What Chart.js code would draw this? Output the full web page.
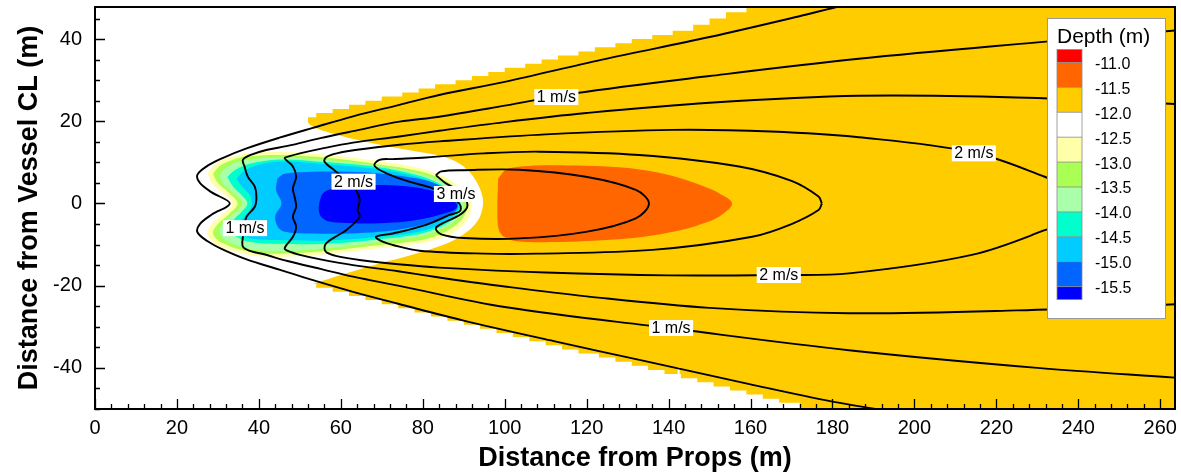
<!DOCTYPE html>
<html><head><meta charset="utf-8">
<script src="https://cdn.jsdelivr.net/npm/chart.js"></script>
<style>html,body{margin:0;padding:0;background:#fff;}#wrap{width:1181px;height:475px;}</style>
</head><body><div id="wrap"><canvas id="c" width="1181" height="475"></canvas></div>
<script>
// ---------- axis ticks ----------
const xTicks = [0,20,40,60,80,100,120,140,160,180,200,220,240,260];
const yTicks = [-40,-20,0,20,40];
const xMinorStep = 4, yMinorStep = 5;

// ---------- depth bands (m) ----------
const legendTitle = 'Depth (m)';
const legendLabels = ['-11.0','-11.5','-12.0','-12.5','-13.0','-13.5','-14.0','-14.5','-15.0','-15.5'];
const legendColors = ['#FF0000','#FF6600','#FFCC00','#FFFFFF','#FFFFAA','#AAFF55','#AAFFAA','#00FFCC','#00CCFF','#0066FF','#0000FF'];

// -12.0..-11.5 region (yellow): stepped upper/lower edges of the domain
const upperStairX = [52,54,58,62,66,70,75,79,83,88,92,96,100,105,109,113,118,122,127,131,136,141,146,150,154,159];
const upperStairY = [21,22,23,24,25,26,27,28,29,30,31,32,33,34,35,36,37,38,39,40,41,42,43.5,45,46.5,48];
const yellowEdgeX = [264,264];
const yellowEdgeY = [48,-50];
const lowerStairX = [172,167,163,159,155,151,147,143,142.7,142.2,139,135,131,127,123,118,114,110,106,102,98,94,90,86,82,78,74,70,66,62,58,54,52];
const lowerStairY = [-48.5,-47.5,-46.5,-45.5,-44.5,-43.5,-42.5,-41.5,-39.8,-41.5,-40.5,-39.5,-38.5,-37.5,-36.5,-35.5,-34.5,-33.5,-32.5,-31.5,-30.5,-29.5,-28.5,-27.5,-26.5,-25.5,-24.5,-23.5,-22.5,-21.5,-20.5,-19.5,-19.5];

// -12.5..-12.0 lens (white)
const lensX = [44,51,53,58,66,74.3,80,85.7,90,93,94.6,94.5,93.2,90,85.7,77,69.4,62,57.2,53,51,44,44];
const lensY = [23,20.5,18.8,17,15,13.4,12.4,11.2,9,5.5,1.5,-1.5,-4.5,-7.5,-9.8,-12.6,-14.6,-16.8,-18.3,-19.6,-20.5,-23,23];

// -11.5..-11.0 (orange)
const orangeX = [98.4,100.3,104,111.6,127.9,137,144.1,149,152.3,155.5,152.3,148,144.1,136,127.9,111.6,103,100,98.6,98.2,98.4];
const orangeY = [6,8.2,9,9.3,8.8,7.6,5.8,4,2.5,0,-3.2,-5,-6.2,-7.8,-8.7,-9.4,-9.2,-8.2,-6.5,-2,6];

// scour bands
const paleYellowX = [27.5,29.6,33,37,45,57,69.4,79,85,89,91.6,91.8,90.5,86.5,80,69.4,57,45,37,29.6,27.5,28.5,31.5,33.5,31.5,28.5,27.5];
const paleYellowY = [7.5,9.8,11.3,12.1,12.6,11.8,10.3,8.7,6.6,3.9,0.5,-1.5,-4.5,-7.6,-9.6,-10.9,-12.3,-13,-12.4,-10,-7.5,-5,-2.3,0,2.3,5,7.5];
const yellowGreenX = [28.8,30.5,33.5,37,45,57,69.4,79,84.8,88.4,90.6,90.7,89.4,85.6,80,69.4,57,45,37,30.5,28.8,30,32.8,34.8,32.8,30,28.8];
const yellowGreenY = [7.2,9.2,10.6,11.4,11.8,11.1,9.5,7.9,5.9,3.4,0.3,-1.5,-4,-6.8,-8.8,-10.1,-11.5,-12.2,-11.6,-9.3,-7.2,-5,-2.5,0,2.5,5,7.2];
const lightGreenX = [30.2,31.8,34,37.5,45,57,69.4,79,84.5,87.9,89.8,89.8,88.6,85,79.5,69.4,57,45,37.5,32,30.3,31.5,34,36,34,31.5,30.2];
const lightGreenY = [6.8,8.5,9.8,10.7,11.2,10.5,9.1,7.3,5.3,2.9,0.2,-1.4,-3.6,-6.1,-8,-9.4,-10.9,-11.6,-11,-9,-7,-4.6,-2.3,0,2.3,4.6,6.8];
const aquaX = [32.3,34,37.5,45,57,69.4,79,84.3,87.5,89.2,89.2,88,84.6,79.2,69.4,57,45,37.5,34,32.6,33.8,35.8,37.2,35.8,33.8,32.3];
const aquaY = [6.4,8,9.6,10.7,10,8.8,6.8,4.7,2.4,0.1,-1.3,-3.3,-5.6,-7.4,-8.7,-9.8,-9.8,-9.3,-7.8,-6.3,-4,-2,0,2,4,6.4];
const cyanX = [34.5,36,38.5,45,57,69.4,79,84,87.1,88.7,88.7,87.5,84.2,79,69.4,57,45,38.5,35.5,34.8,36.2,37.8,38.3,37.8,36,34.5];
const cyanY = [6,7.6,9,10.2,9.5,8.3,6.3,4.3,2,0,-1.3,-3,-5.2,-6.9,-8.1,-9,-8.9,-8.6,-7.4,-5.6,-3.5,-1.5,0,2,4,6];
const blueX = [44.5,46,53.2,62,69.4,76,81.6,85.5,88.4,88.4,86.5,84,76,69.4,62,53.2,46,44.5,44,45.5,44.2,44.5];
const blueY = [6,7.2,7.7,7.7,7.3,6.5,5.4,3.5,0.6,-1.3,-3,-4.2,-6,-6.9,-7.3,-7.3,-6.8,-5.5,-3,0,3.2,6];
const darkBlueX = [54.8,55.5,57.2,63,69.4,76,81.6,85.5,88.2,88.1,85,81.6,76,69.4,63,57.2,55.2,54.6,54.8];
const darkBlueY = [0.4,2.3,3.4,4.2,4.5,4.2,3.3,2,0,-1.3,-2.5,-3.4,-4.4,-4.8,-4.8,-4.4,-3.2,-1.5,0.4];

// ---------- velocity contours (m/s) ----------
const c05X = [190,181,171.7,150,123.8,100,84,74.3,63,53.2,45,37,31,27.5,25,25.6,28.5,32.9,28.5,25.6,25,27.5,31,37,45,53,63,74,90,112,134,160,180,192,200];
const c05Y = [49.8,47.8,45.5,40.5,35,29.6,26.4,24,21.2,18.4,16,13.4,11,9.2,7,5,2.7,0,-2.7,-5,-7,-9.2,-11.1,-13.6,-16.1,-18.6,-21.5,-24.4,-28.5,-33.5,-38.3,-44,-48.2,-50.2,-51.6];
const c10X = [264,230,186.4,150,117,100,84,74.3,63,55,47,41.8,38,36.1,36.5,37.3,39,39.4,39,37,36.5,36.1,36.1,38,41,47,55,63,74,100,140,184,230,264];
const c10Y = [42.1,39.2,35.2,31,26.8,23.8,21.1,19.9,17.6,15.9,14,13,11.8,10.6,9,6.5,4.1,1.6,-0.8,-3.2,-5.2,-8.1,-10.5,-11.6,-12.3,-14,-15.9,-17.8,-20,-25.2,-30.3,-35.7,-40,-42.4];
const c15X = [264,225,186.4,150,120,100,84,74.3,63,55,50,47.5,46.3,48.3,49.1,48.3,48.7,49.1,48.3,49.1,48.3,46.3,47.5,50,55,63,74,84,100,120,150,184,225,264];
const c15Y = [24.2,25.8,26.2,24.5,22,19.8,17.7,16.3,14.8,13.3,12.2,11.5,11,9,6.5,3.7,1.7,-0.8,-3.2,-5.7,-8.1,-10.9,-11.7,-12.5,-13.6,-15,-16.5,-18,-20.2,-22.6,-25.4,-26.7,-26,-24.5];
const c20X = [240,238,231.8,214.4,186.4,165,140.9,110,84,74.3,65,59,56.5,56,58.5,61.3,63.7,64.6,64.1,64.6,61.3,58.5,56.4,56,56.5,59,65,74,84,110,140,166.9,184,214,231.8,238,240];
const c20Y = [0,3.5,6.5,12.4,16.1,17.5,17.9,16.8,15.1,14.3,13.2,12.2,11.3,10.2,8,5.7,3.3,0.9,-1.6,-3.2,-6.5,-8.2,-9.7,-10.9,-11.9,-12.8,-13.8,-14.8,-15.6,-16.8,-17.5,-17.4,-17,-12.5,-6.5,-3.5,0];
const c25X = [177.4,176.6,170,157.2,132.8,108.4,95,80.8,72.7,69.4,68.2,71,76.7,82.4,87.3,88.9,89.3,88.9,86.5,80.8,72.7,68.6,70.2,72.7,79.2,95,108,136,160.4,170,176.6,177.4];
const c25Y = [0,1.7,5.5,9,11.8,12.6,12.2,11.2,10.8,10.6,9.2,7.4,5.3,3.7,1.3,0,-1.2,-2,-2.8,-5.2,-7.3,-8.1,-9.3,-10.1,-11.5,-12.2,-12.2,-11.3,-8.1,-5,-1.6,0];
const c30X = [83.2,84.5,90,103.5,119.8,132,135.2,132,119.8,103.5,90,84.5,83.2,85.5,89,90.8,90.5,88.5,85.5,83.2];
const c30Y = [6.9,7.8,8.1,8.2,6.5,3.3,0,-3.6,-6.9,-8.5,-8.4,-7.5,-6,-4.5,-2.8,-1,1,3.3,5,6.9];

// contour labels
const labelText = ['1 m/s','2 m/s','3 m/s','1 m/s','2 m/s','2 m/s','1 m/s'];
const labelX = [36.6,63.1,88.1,112.6,214.5,166.9,140.6];
const labelY = [-6,5.3,2.3,25.9,12.2,-17.4,-30.3];

// ---------- build ----------
const FONT = '"Liberation Sans", Arial, Helvetica, sans-serif';
const pts = (xs, ys) => xs.map((x, i) => ({x: x, y: ys[i]}));

function area(xs, ys, color, order, extra) {
  return Object.assign({
    data: pts(xs, ys), fill: 'shape', backgroundColor: color,
    borderWidth: 0, borderColor: 'rgba(0,0,0,0)', pointRadius: 0,
    tension: 0.35, order: order
  }, extra || {});
}
function contour(xs, ys) {
  return {data: pts(xs, ys), fill: false, borderColor: '#000', borderWidth: 1.9,
    pointRadius: 0, tension: 0.35, order: 1};
}

const yellowPts = pts(upperStairX, upperStairY)
  .concat(pts(yellowEdgeX, yellowEdgeY))
  .concat(pts(lowerStairX, lowerStairY));

const datasets = [
  contour(c05X, c05Y), contour(c10X, c10Y), contour(c15X, c15Y),
  contour(c20X, c20Y), contour(c25X, c25Y), contour(c30X, c30Y),
  area(darkBlueX, darkBlueY, legendColors[10], 10),
  area(blueX, blueY, legendColors[9], 11),
  area(cyanX, cyanY, legendColors[8], 12),
  area(aquaX, aquaY, legendColors[7], 13),
  area(lightGreenX, lightGreenY, legendColors[6], 14),
  area(yellowGreenX, yellowGreenY, legendColors[5], 15),
  area(paleYellowX, paleYellowY, legendColors[4], 16),
  area(orangeX, orangeY, legendColors[1], 17),
  area(lensX, lensY, legendColors[3], 18),
  {data: yellowPts, fill: 'shape', backgroundColor: legendColors[2], borderWidth: 0,
   borderColor: 'rgba(0,0,0,0)', pointRadius: 0, stepped: 'before', order: 19}
];

const decor = {
  id: 'decor',
  afterDatasetsDraw(chart) {
    const {ctx, scales: {x, y}} = chart;
    ctx.save();
    ctx.font = '16px ' + FONT;
    ctx.textAlign = 'center'; ctx.textBaseline = 'middle';
    labelText.forEach((t, i) => {
      const px = x.getPixelForValue(labelX[i]), py = y.getPixelForValue(labelY[i]);
      const w = ctx.measureText(t).width + 5, h = 16;
      ctx.fillStyle = '#fff';
      ctx.fillRect(px - w / 2, py - h / 2, w, h);
      ctx.fillStyle = '#000';
      ctx.fillText(t, px, py + 0.5);
    });
    ctx.restore();
  },
  afterDraw(chart) {
    const {ctx, chartArea: a, scales: {x, y}} = chart;
    ctx.save();
    ctx.strokeStyle = '#000'; ctx.lineWidth = 1.3;
    ctx.beginPath();
    for (let v = x.min; v <= x.max; v += xMinorStep) {
      const p = Math.round(x.getPixelForValue(v)) + 0.5;
      const len = xTicks.includes(v) ? 10 : 5;
      ctx.moveTo(p, a.bottom); ctx.lineTo(p, a.bottom - len);
    }
    for (let v = y.min; v <= y.max; v += yMinorStep) {
      const p = Math.round(y.getPixelForValue(v)) + 0.5;
      const len = yTicks.includes(v) ? 10 : 5;
      ctx.moveTo(a.left, p); ctx.lineTo(a.left + len, p);
    }
    ctx.stroke();
    ctx.lineWidth = 2;
    ctx.strokeRect(a.left, a.top, a.right - a.left, a.bottom - a.top);

    // depth legend
    const L = 1047, T = 18, W = 118, H = 300;
    ctx.fillStyle = '#fff'; ctx.fillRect(L, T, W, H);
    ctx.lineWidth = 1; ctx.strokeStyle = '#999';
    ctx.strokeRect(L + 0.5, T + 0.5, W, H);
    ctx.fillStyle = '#000'; ctx.font = '21px ' + FONT;
    ctx.textAlign = 'left'; ctx.textBaseline = 'middle';
    ctx.fillText(legendTitle, L + 10, T + 19);
    const sx = L + 10, sw = 25, step = 24.9, top0 = T + 31.5, firstH = 13;
    const bounds = [top0];
    for (let i = 0; i <= legendLabels.length - 1; i++) bounds.push(top0 + firstH + i * step);
    bounds.push(bounds[bounds.length - 1] + firstH);
    legendColors.forEach((c, i) => {
      ctx.fillStyle = c;
      ctx.fillRect(sx, bounds[i], sw, bounds[i + 1] - bounds[i]);
    });
    ctx.strokeStyle = '#8a8a8a'; ctx.lineWidth = 0.8;
    ctx.beginPath();
    for (let i = 1; i < bounds.length - 1; i++) { ctx.moveTo(sx, bounds[i]); ctx.lineTo(sx + sw, bounds[i]); }
    ctx.stroke();
    ctx.strokeRect(sx, bounds[0], sw, bounds[bounds.length - 1] - bounds[0]);
    ctx.fillStyle = '#000'; ctx.font = '16px ' + FONT;
    legendLabels.forEach((t, i) => ctx.fillText(t, L + 48, bounds[i + 1] + 2));
    ctx.restore();
  }
};

new Chart(document.getElementById('c'), {
  type: 'line',
  data: {datasets: datasets},
  options: {
    responsive: false, animation: false, events: [],
    devicePixelRatio: 1,
    layout: {padding: {top: 7, right: 6, left: 0, bottom: 0}},
    plugins: {legend: {display: false}, tooltip: {enabled: false}},
    scales: {
      x: {
        type: 'linear', min: 0, max: 263.6,
        afterBuildTicks: s => { s.ticks = xTicks.map(v => ({value: v})); },
        afterFit: s => { s.height = 66; s.paddingLeft = 0; s.paddingRight = 0; },
        grid: {display: false, drawTicks: false}, border: {display: false},
        ticks: {color: '#000', font: {family: FONT, size: 20}, padding: 7, maxRotation: 0},
        title: {display: true, text: 'Distance from Props (m)', color: '#000',
          font: {family: FONT, size: 27, weight: 'bold'}, padding: {top: 0, bottom: 0}}
      },
      y: {
        type: 'linear', min: -50, max: 47.8,
        afterBuildTicks: s => { s.ticks = yTicks.map(v => ({value: v})); },
        afterFit: s => { s.width = 95; s.paddingTop = 0; s.paddingBottom = 0; },
        grid: {display: false, drawTicks: false}, border: {display: false},
        ticks: {color: '#000', font: {family: FONT, size: 20}, padding: 13},
        title: {display: true, text: 'Distance from Vessel CL (m)', color: '#000',
          font: {family: FONT, size: 27, weight: 'bold'}, padding: {top: 13, bottom: 0}}
      }
    }
  },
  plugins: [decor]
});
</script></body></html>
